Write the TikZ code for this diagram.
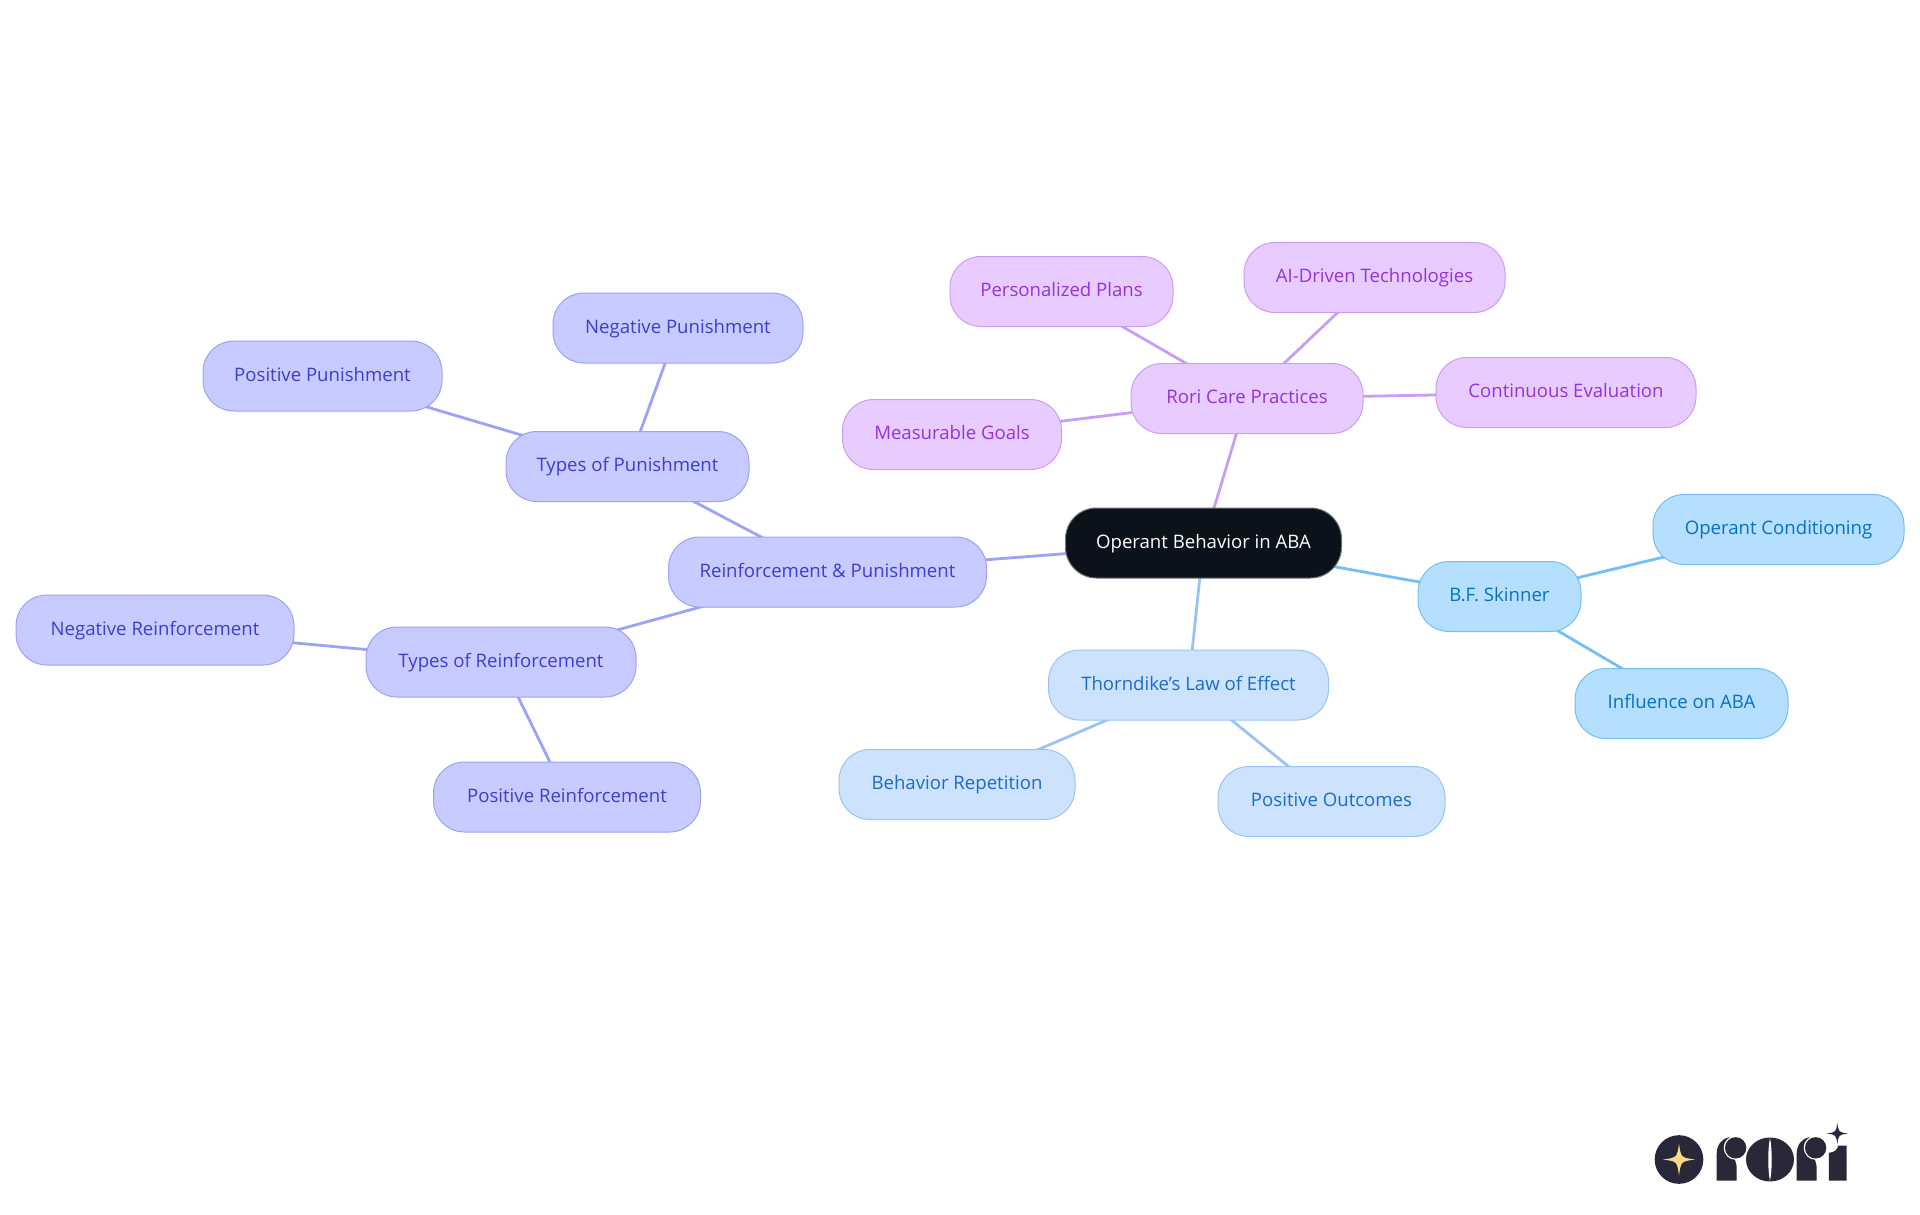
\documentclass[tikz,border=0pt]{standalone}
\usepackage{fontspec}
\setmainfont{Open Sans}
\usetikzlibrary{backgrounds}
\definecolor{rootfill}{HTML}{0B121B}
\definecolor{rootline}{HTML}{6F7277}
\definecolor{skyfill}{HTML}{B4DFFF}\definecolor{skyline}{HTML}{73BEF5}\definecolor{skytext}{HTML}{0A70BE}
\definecolor{bluefill}{HTML}{CDE3FD}\definecolor{blueline}{HTML}{98C4F3}\definecolor{bluetext}{HTML}{1B6BC8}
\definecolor{indfill}{HTML}{C8CBFF}\definecolor{indline}{HTML}{9CA2F5}\definecolor{indtext}{HTML}{3A3FCC}
\definecolor{purfill}{HTML}{E8CCFF}\definecolor{purline}{HTML}{C99DF5}\definecolor{purtext}{HTML}{9333D8}
\definecolor{logodark}{HTML}{282838}
\definecolor{logostar}{HTML}{FCD88A}
\newcommand{\fourstar}[4]{\fill[#4] (#1,#2-#3) .. controls (#1+0.12*#3,#2-0.12*#3) .. (#1+#3,#2) .. controls (#1+0.12*#3,#2+0.12*#3) .. (#1,#2+#3) .. controls (#1-0.12*#3,#2+0.12*#3) .. (#1-#3,#2) .. controls (#1-0.12*#3,#2-0.12*#3) .. cycle;}
\tikzset{
  mm/.style={rectangle,rounded corners=31pt,line width=1pt,inner sep=0pt,font=\fontsize{18.6}{22}\selectfont,text height=14pt,text depth=4pt,align=center},
  rootn/.style={mm,fill=rootfill,draw=rootline,text=white},
  skyn/.style={mm,fill=skyfill,draw=skyline,text=skytext},
  bluen/.style={mm,fill=bluefill,draw=blueline,text=bluetext},
  indn/.style={mm,fill=indfill,draw=indline,text=indtext},
  purn/.style={mm,fill=purfill,draw=purline,text=purtext},
  sz/.style 2 args={minimum width=#1pt,minimum height=#2pt},
  skye/.style={draw=skyline,line width=2.8pt},
  bluee/.style={draw=blueline,line width=2.8pt},
  inde/.style={draw=indline,line width=2.8pt},
  pure/.style={draw=purline,line width=2.8pt},
}
\begin{document}
\begin{tikzpicture}[x=1pt,y=-1pt]
\useasboundingbox (0,0) rectangle (1920,1215);
\node[rootn,sz={276}{70}] (root) at (1203.5,543) {Operant Behavior in ABA};
\node[skyn,sz={163}{70}] (skinner) at (1499.5,596.5) {B.F. Skinner};
\node[skyn,sz={251}{70}] (cond) at (1778.5,529.5) {Operant Conditioning};
\node[skyn,sz={213}{70}] (infl) at (1681.5,703.5) {Influence on ABA};
\node[bluen,sz={280}{70}] (thorn) at (1188.5,685) {Thorndike’s Law of Effect};
\node[bluen,sz={236}{70}] (rep) at (957,784.5) {Behavior Repetition};
\node[bluen,sz={227}{70}] (out) at (1331.5,801.5) {Positive Outcomes};
\node[indn,sz={318}{70}] (rp) at (827.5,572) {Reinforcement \& Punishment};
\node[indn,sz={243}{70}] (tpun) at (627.5,466.5) {Types of Punishment};
\node[indn,sz={250}{70}] (npun) at (678,328) {Negative Punishment};
\node[indn,sz={239}{70}] (ppun) at (322.5,376) {Positive Punishment};
\node[indn,sz={270}{70}] (trein) at (501,662) {Types of Reinforcement};
\node[indn,sz={278}{70}] (nrein) at (155,630) {Negative Reinforcement};
\node[indn,sz={267}{70}] (prein) at (567,797) {Positive Reinforcement};
\node[purn,sz={232}{70}] (rori) at (1247,398.5) {Rori Care Practices};
\node[purn,sz={223}{70}] (plans) at (1061.5,291.5) {Personalized Plans};
\node[purn,sz={261}{70}] (ai) at (1374.5,277.5) {AI-Driven Technologies};
\node[purn,sz={260}{70}] (eval) at (1566,392.5) {Continuous Evaluation};
\node[purn,sz={219}{70}] (goals) at (952,434.5) {Measurable Goals};
\begin{scope}[on background layer]
\draw[skye] (root.center) -- (skinner.center);
\draw[skye] (skinner.center) -- (cond.center);
\draw[skye] (skinner.center) -- (infl.center);
\draw[bluee] (root.center) -- (thorn.center);
\draw[bluee] (thorn.center) -- (rep.center);
\draw[bluee] (thorn.center) -- (out.center);
\draw[inde] (root.center) -- (rp.center);
\draw[inde] (rp.center) -- (tpun.center);
\draw[inde] (tpun.center) -- (npun.center);
\draw[inde] (tpun.center) -- (ppun.center);
\draw[inde] (rp.center) -- (trein.center);
\draw[inde] (trein.center) -- (nrein.center);
\draw[inde] (trein.center) -- (prein.center);
\draw[pure] (root.center) -- (rori.center);
\draw[pure] (rori.center) -- (plans.center);
\draw[pure] (rori.center) -- (ai.center);
\draw[pure] (rori.center) -- (eval.center);
\draw[pure] (rori.center) -- (goals.center);
\end{scope}
% logo (coordinates from crop: x=1620+X/3, y=1100+Y/3)
\begin{scope}[shift={(1620,1099.5)},x=0.3333pt,y=-0.3333pt]
\fill[logodark] (177,180) circle (73);
\fourstar{177}{180}{48}{logostar}
% first r
\fill[logodark] (290,243) -- (290,165) .. controls (290,135) and (305,118) .. (328,113) -- (350,200) -- (350,243) -- cycle;
\fill[white] (347,145) circle (36);
\fill[logodark] (347,145) circle (32);
% o
\fill[logodark] (450,180) ellipse (72 and 66);
\fill[white] (450,116) .. controls (443,150) and (443,210) .. (450,244) .. controls (457,210) and (457,150) .. cycle;
% second r
\fill[logodark] (530,243) -- (530,165) .. controls (530,135) and (545,118) .. (568,113) -- (590,200) -- (590,243) -- cycle;
\fill[white] (587,145) circle (36);
\fill[logodark] (587,145) circle (32);
% i
\fill[logodark] (627,243) -- (627,160) .. controls (645,158) and (652,150) .. (655,138) -- (680,138) -- (680,243) -- cycle;
\fourstar{652}{102}{32}{logodark}
\end{scope}
\end{tikzpicture}
\end{document}
